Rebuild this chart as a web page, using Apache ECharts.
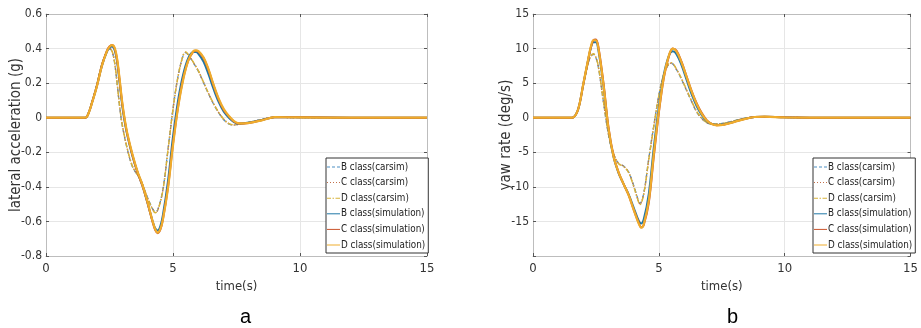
<!DOCTYPE html>
<html>
<head>
<meta charset="utf-8">
<script src="https://cdn.jsdelivr.net/npm/echarts@6/dist/echarts.min.js"></script>
<style>
html,body{margin:0;padding:0;background:#fff;}
#c{width:921px;height:328px;}
</style>
</head>
<body>
<div id="c"></div>
<script>
// ---------- data ----------
const seriesNames = ['B class(carsim)', 'C class(carsim)', 'D class(carsim)', 'B class(simulation)', 'C class(simulation)', 'D class(simulation)'];
const xTicks = [0, 5, 10, 15];
const accTickLabels = ['0.6', '0.4', '0.2', '0', '-0.2', '-0.4', '-0.6', '-0.8'];
const yawTickLabels = ['15', '10', '5', '0', '-5', '-10', '-15'];

// (a) lateral acceleration (g)
const accSimT = [0, 1.5, 1.6, 1.7, 1.8, 2.0, 2.2, 2.4, 2.5, 2.6, 2.7, 2.8, 2.9, 3.0, 3.1, 3.2, 3.4, 3.6, 3.8, 4.0, 4.2, 4.3, 4.4, 4.5, 4.6, 4.8, 5.0, 5.2, 5.4, 5.6, 5.8, 5.9, 6.0, 6.2, 6.4, 6.6, 6.8, 7.0, 7.2, 7.4, 7.6, 8.0, 8.5, 9.0, 10, 12, 15];
const accBSim = [0, 0, 0.004, 0.036, 0.082, 0.182, 0.3, 0.382, 0.405, 0.412, 0.392, 0.322, 0.2, 0.072, -0.025, -0.1, -0.22, -0.315, -0.395, -0.495, -0.6, -0.64, -0.652, -0.628, -0.565, -0.37, -0.11, 0.1, 0.25, 0.345, 0.38, 0.38, 0.37, 0.325, 0.25, 0.165, 0.09, 0.035, 0.0, -0.025, -0.033, -0.028, -0.013, 0.003, 0.002, 0, 0];
const accCSim = [0, 0, 0.004, 0.036, 0.082, 0.182, 0.302, 0.388, 0.412, 0.421, 0.402, 0.335, 0.215, 0.085, -0.015, -0.095, -0.215, -0.315, -0.395, -0.495, -0.605, -0.65, -0.668, -0.648, -0.59, -0.405, -0.15, 0.065, 0.225, 0.33, 0.382, 0.388, 0.382, 0.345, 0.275, 0.185, 0.105, 0.045, 0.008, -0.022, -0.034, -0.03, -0.014, 0.003, 0.002, 0, 0];
const accDSim = [0, 0, 0.004, 0.035, 0.08, 0.18, 0.3, 0.385, 0.41, 0.42, 0.405, 0.34, 0.22, 0.09, -0.01, -0.09, -0.21, -0.31, -0.39, -0.49, -0.6, -0.645, -0.665, -0.645, -0.59, -0.41, -0.16, 0.06, 0.22, 0.33, 0.385, 0.39, 0.385, 0.35, 0.28, 0.19, 0.11, 0.05, 0.01, -0.02, -0.033, -0.03, -0.015, 0.003, 0.002, 0, 0];

const accCarT = [0, 1.5, 1.6, 1.7, 1.8, 2.0, 2.2, 2.4, 2.5, 2.6, 2.7, 2.8, 2.9, 3.0, 3.2, 3.4, 3.6, 3.7, 3.8, 4.0, 4.2, 4.3, 4.4, 4.6, 4.8, 5.0, 5.2, 5.4, 5.5, 5.6, 5.8, 6.0, 6.2, 6.4, 6.6, 6.8, 7.0, 7.2, 7.4, 7.6, 8.0, 8.5, 9.0, 10, 12, 15];
const accBCar = [0, 0, 0.004, 0.038, 0.085, 0.19, 0.31, 0.384, 0.398, 0.383, 0.318, 0.198, 0.063, -0.042, -0.182, -0.282, -0.332, -0.352, -0.386, -0.463, -0.527, -0.545, -0.532, -0.418, -0.188, 0.052, 0.242, 0.36, 0.376, 0.362, 0.318, 0.268, 0.203, 0.138, 0.078, 0.028, -0.012, -0.036, -0.042, -0.037, -0.026, -0.01, 0.002, 0.001, 0, 0];
const accCCar = [0, 0, 0.004, 0.038, 0.085, 0.19, 0.31, 0.385, 0.4, 0.385, 0.32, 0.2, 0.065, -0.04, -0.18, -0.28, -0.33, -0.35, -0.385, -0.465, -0.53, -0.548, -0.535, -0.42, -0.19, 0.05, 0.24, 0.36, 0.378, 0.365, 0.32, 0.27, 0.205, 0.14, 0.08, 0.03, -0.01, -0.035, -0.042, -0.038, -0.027, -0.01, 0.002, 0.001, 0, 0];
const accDCar = [0, 0, 0.004, 0.038, 0.086, 0.191, 0.311, 0.386, 0.401, 0.386, 0.321, 0.201, 0.066, -0.039, -0.179, -0.279, -0.33, -0.351, -0.386, -0.466, -0.532, -0.55, -0.537, -0.422, -0.191, 0.049, 0.239, 0.362, 0.38, 0.366, 0.321, 0.271, 0.206, 0.141, 0.081, 0.031, -0.009, -0.034, -0.041, -0.038, -0.027, -0.011, 0.002, 0.001, 0, 0];

// (b) yaw rate (deg/s)
const yawSimT = [0, 1.5, 1.6, 1.8, 2.0, 2.2, 2.3, 2.4, 2.5, 2.6, 2.8, 3.0, 3.2, 3.4, 3.6, 3.8, 4.0, 4.2, 4.3, 4.4, 4.6, 4.8, 5.0, 5.2, 5.4, 5.55, 5.7, 5.9, 6.1, 6.3, 6.5, 6.7, 6.9, 7.1, 7.3, 7.6, 8.0, 8.4, 8.8, 9.2, 10, 12, 15];
const yawBSim = [0, 0, 0.05, 1.3, 4.9, 8.5, 10.1, 10.9, 10.9, 9.7, 4.6, -1.8, -5.7, -8.0, -9.6, -11.1, -13.0, -14.9, -15.3, -14.7, -11.0, -4.3, 1.6, 6.3, 9.0, 9.6, 9.2, 7.6, 5.5, 3.4, 1.7, 0.4, -0.5, -0.9, -1.05, -0.95, -0.55, -0.15, 0.1, 0.15, 0.05, 0, 0];
const yawCSim = [0, 0, 0.05, 1.3, 4.85, 8.5, 10.2, 11.2, 11.3, 10.2, 5.0, -1.4, -5.5, -7.9, -9.6, -11.2, -13.3, -15.2, -15.85, -15.5, -12.3, -5.6, 0.7, 5.8, 8.9, 10.0, 9.7, 8.1, 6.0, 3.9, 2.1, 0.7, -0.35, -0.9, -1.1, -1.0, -0.6, -0.2, 0.1, 0.15, 0.05, 0, 0];
const yawDSim = [0, 0, 0.05, 1.3, 4.9, 8.6, 10.3, 11.2, 11.2, 10.0, 4.8, -1.6, -5.6, -7.9, -9.6, -11.2, -13.3, -15.3, -15.9, -15.4, -12.0, -5.2, 1.0, 6.0, 9.0, 10.0, 9.6, 8.0, 5.9, 3.8, 2.0, 0.6, -0.4, -0.9, -1.1, -1.0, -0.6, -0.2, 0.1, 0.15, 0.05, 0, 0];

const yawCarT = [0, 1.5, 1.6, 1.8, 2.0, 2.2, 2.3, 2.4, 2.5, 2.6, 2.8, 3.0, 3.2, 3.4, 3.6, 3.8, 4.0, 4.2, 4.25, 4.4, 4.6, 4.8, 5.0, 5.2, 5.4, 5.5, 5.7, 5.9, 6.1, 6.3, 6.5, 6.7, 6.9, 7.1, 7.3, 7.6, 8.0, 8.4, 8.8, 9.2, 10, 12, 15];
const yawBCar = [0, 0, 0.05, 1.3, 4.8, 8.0, 8.85, 9.15, 8.65, 7.25, 2.25, -2.45, -5.25, -6.6, -7.0, -7.85, -9.8, -12.1, -12.4, -10.9, -5.9, -1.1, 3.25, 6.3, 7.75, 7.85, 6.95, 5.55, 3.95, 2.35, 0.85, -0.1, -0.7, -0.9, -0.9, -0.78, -0.43, -0.1, 0.1, 0.12, 0.04, 0, 0];
const yawCCar = [0, 0, 0.05, 1.3, 4.8, 8.0, 8.9, 9.2, 8.7, 7.3, 2.3, -2.4, -5.2, -6.6, -7.0, -7.9, -9.9, -12.2, -12.5, -11.0, -6.0, -1.2, 3.2, 6.3, 7.8, 7.9, 7.0, 5.6, 4.0, 2.4, 0.9, -0.1, -0.7, -0.9, -0.9, -0.8, -0.45, -0.1, 0.1, 0.12, 0.04, 0, 0];
const yawDCar = [0, 0, 0.05, 1.3, 4.8, 8.05, 8.95, 9.25, 8.75, 7.35, 2.35, -2.35, -5.2, -6.65, -7.05, -7.95, -9.95, -12.25, -12.55, -11.05, -6.05, -1.25, 3.2, 6.35, 7.85, 7.95, 7.05, 5.65, 4.05, 2.45, 0.95, -0.05, -0.68, -0.9, -0.92, -0.8, -0.45, -0.1, 0.1, 0.12, 0.04, 0, 0];

// ---------- styles ----------
const colors = ['#4d8fc4', '#c2704a', '#d8b338', '#1f77a6', '#c9522a', '#efac2c'];
const lineTypes = [[4, 3], [1.2, 1.8], [5, 2, 1.5, 2], 'solid', 'solid', 'solid'];
const lineWidths = [1.3, 1.4, 1.4, 2, 2, 2.2];
const legendIcons = [
  'path://M0,0h3v1h-3z M5,0h3v1h-3z M10,0h3v1h-3z',
  'path://M0,0h1v1h-1z M3,0h1v1h-1z M6,0h1v1h-1z M9,0h1v1h-1z M12,0h1v1h-1z',
  'path://M0,0h4v1h-4z M5.5,0h1.5v1h-1.5z M8.5,0h4.5v1h-4.5z',
  'path://M0,0h13v1h-13z',
  'path://M0,0h13v1h-13z',
  'path://M0,0h13v1h-13z'
];
const FONT = '"DejaVu Sans Condensed", "Liberation Sans", Arial, sans-serif';

function pairs(t, v) { return t.map((x, i) => [x, v[i]]); }

const grids = [
  { left: 46, top: 14, width: 381, height: 242 },
  { left: 533, top: 14, width: 381, height: 242 }
];

const axisLine = { show: true, onZero: false, lineStyle: { color: '#bdbdbd', width: 1 } };
const axisTick = { show: true, inside: true, length: 3, lineStyle: { color: '#555' } };
const splitLine = { show: true, lineStyle: { color: '#e6e6e6', width: 1 } };
const labelStyle = { color: '#333', fontSize: 12, fontFamily: FONT };

const xAxes = [], yAxes = [];
[0, 1].forEach(g => {
  xAxes.push({ type: 'value', gridIndex: g, min: 0, max: 15, interval: 5, position: 'bottom',
    axisLine, axisTick, splitLine,
    axisLabel: Object.assign({ margin: 6, formatter: v => xTicks.includes(v) ? String(v) : '' }, labelStyle, { fontSize: 13 }),
    name: 'time(s)', nameLocation: 'middle', nameGap: 23,
    nameTextStyle: { color: '#333', fontSize: 13, fontFamily: FONT } });
  xAxes.push({ type: 'value', gridIndex: g, min: 0, max: 15, interval: 5, position: 'top',
    axisLine, axisTick, splitLine: { show: false }, axisLabel: { show: false } });
});
yAxes.push({ type: 'value', gridIndex: 0, min: -0.8, max: 0.6, interval: 0.2, position: 'left',
  axisLine, axisTick, splitLine,
  axisLabel: Object.assign({ margin: 4, formatter: v => {
    const s = (Math.round(v * 10) / 10).toString();
    return accTickLabels.includes(s) ? s : '';
  } }, labelStyle),
  name: 'lateral acceleration (g)', nameLocation: 'middle', nameGap: 22, nameMoveOverlap: false,
  nameTextStyle: { color: '#333', fontSize: 15, fontFamily: FONT } });
yAxes.push({ type: 'value', gridIndex: 0, min: -0.8, max: 0.6, interval: 0.2, position: 'right',
  axisLine, axisTick, splitLine: { show: false }, axisLabel: { show: false } });
yAxes.push({ type: 'value', gridIndex: 1, min: -20, max: 15, interval: 5, position: 'left',
  axisLine, axisTick, splitLine,
  axisLabel: Object.assign({ margin: 4, formatter: v => yawTickLabels.includes(String(v)) ? String(v) : '' }, labelStyle),
  name: 'yaw rate (deg/s)', nameLocation: 'middle', nameGap: 19, nameMoveOverlap: false,
  nameTextStyle: { color: '#333', fontSize: 15, fontFamily: FONT } });
yAxes.push({ type: 'value', gridIndex: 1, min: -20, max: 15, interval: 5, position: 'right',
  axisLine, axisTick, splitLine: { show: false }, axisLabel: { show: false } });

const accData = [pairs(accCarT, accBCar), pairs(accCarT, accCCar), pairs(accCarT, accDCar),
                 pairs(accSimT, accBSim), pairs(accSimT, accCSim), pairs(accSimT, accDSim)];
const yawData = [pairs(yawCarT, yawBCar), pairs(yawCarT, yawCCar), pairs(yawCarT, yawDCar),
                 pairs(yawSimT, yawBSim), pairs(yawSimT, yawCSim), pairs(yawSimT, yawDSim)];

const series = [];
[accData, yawData].forEach((set, g) => {
  set.forEach((d, i) => {
    series.push({
      type: 'line', name: seriesNames[i], xAxisIndex: g * 2, yAxisIndex: g * 2,
      data: d, smooth: 0.35, symbol: 'none', showSymbol: false, animation: false,
      lineStyle: { color: colors[i], width: lineWidths[i], type: lineTypes[i] },
      itemStyle: { color: colors[i] }, z: 2 + i
    });
  });
});

function legendAt(left) {
  return {
    show: true,
    data: seriesNames.map((n, i) => ({ name: n, icon: legendIcons[i],
      itemStyle: { color: colors[i], borderWidth: 0 } })),
    orient: 'vertical', left: left, top: 158,
    itemWidth: 13, itemHeight: 2, itemGap: 3.6, padding: [3, 3, 2, 1],
    borderColor: '#333', borderWidth: 1, backgroundColor: '#fff',
    textStyle: { color: '#222', fontSize: 9.8, lineHeight: 12, fontFamily: FONT, padding: [0, 0, 0, -4] },
    selectedMode: false
  };
}

const chart = echarts.init(document.getElementById('c'), null, { renderer: 'canvas' });
chart.setOption({
  animation: false,
  backgroundColor: '#fff',
  grid: grids,
  xAxis: xAxes,
  yAxis: yAxes,
  legend: [legendAt(326), legendAt(813)],
  series: series,
  graphic: [
    { type: 'text', left: 240, top: 307, style: { text: 'a', fontSize: 20, fill: '#000', fontFamily: 'Liberation Sans, Arial, sans-serif' } },
    { type: 'text', left: 727, top: 307, style: { text: 'b', fontSize: 20, fill: '#000', fontFamily: 'Liberation Sans, Arial, sans-serif' } }
  ]
});
</script>
</body>
</html>
